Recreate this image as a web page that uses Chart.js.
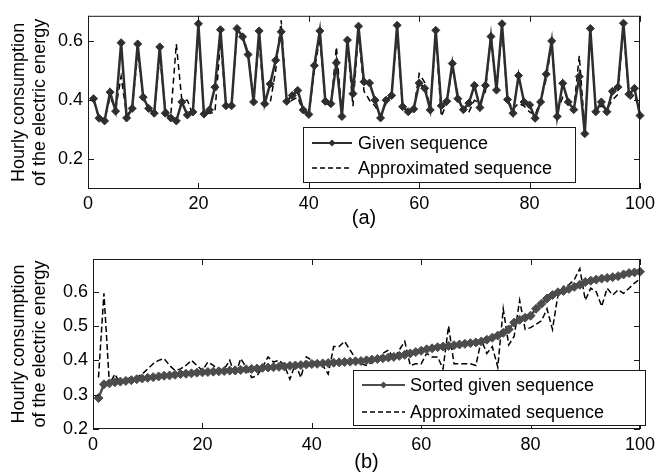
<!DOCTYPE html>
<html>
<head>
<meta charset="utf-8">
<script src="https://cdn.jsdelivr.net/npm/chart.js@4.4.1/dist/chart.umd.min.js"></script>
<style>
body { margin: 0; background: #fff; }
#wrap { position: relative; width: 660px; height: 476px; }
canvas { position: absolute; left: 0; }
#topChart { top: 0; }
#bottomChart { top: 240px; }
</style>
</head>
<body>
<div id="wrap">
  <canvas id="topChart" width="660" height="236"></canvas>
  <canvas id="bottomChart" width="660" height="236"></canvas>
</div>
<script>
// hour number on the x axis
var hours = [];
for (var h = 1; h <= 100; h++) hours.push(h);

// (a) given hourly consumption and its approximation
var givenSeq = [0.405,0.339,0.33,0.427,0.363,0.594,0.34,0.372,0.59,0.41,
  0.372,0.356,0.58,0.356,0.34,0.33,0.394,0.35,0.36,0.658,
  0.353,0.367,0.444,0.638,0.381,0.381,0.642,0.614,0.554,0.394,
  0.634,0.388,0.455,0.535,0.631,0.396,0.416,0.433,0.367,0.352,
  0.517,0.634,0.396,0.388,0.526,0.345,0.603,0.422,0.65,0.462,
  0.458,0.40,0.34,0.40,0.416,0.653,0.378,0.361,0.37,0.458,
  0.44,0.367,0.636,0.381,0.396,0.524,0.405,0.368,0.39,0.45,
  0.375,0.45,0.615,0.434,0.658,0.402,0.356,0.483,0.394,0.384,
  0.339,0.394,0.488,0.60,0.345,0.457,0.394,0.368,0.48,0.287,
  0.642,0.361,0.394,0.361,0.43,0.444,0.66,0.42,0.44,0.348];
var approxSeq = [0.40,0.34,0.335,0.41,0.37,0.48,0.35,0.37,0.56,0.41,
  0.375,0.36,0.55,0.37,0.35,0.59,0.40,0.40,0.35,0.64,
  0.36,0.355,0.36,0.60,0.38,0.38,0.63,0.62,0.56,0.40,
  0.60,0.38,0.39,0.50,0.67,0.39,0.40,0.41,0.36,0.35,
  0.50,0.61,0.39,0.38,0.58,0.35,0.59,0.38,0.63,0.43,
  0.40,0.38,0.35,0.39,0.42,0.63,0.37,0.36,0.37,0.49,
  0.46,0.37,0.62,0.345,0.39,0.51,0.42,0.36,0.36,0.40,
  0.39,0.43,0.62,0.43,0.64,0.40,0.37,0.39,0.38,0.36,
  0.35,0.40,0.47,0.59,0.36,0.41,0.40,0.37,0.55,0.30,
  0.63,0.37,0.38,0.37,0.40,0.42,0.65,0.40,0.42,0.36];

// (b) sorted given sequence and its approximation
var sortedSeq = [0.29,0.33,0.333,0.336,0.338,0.34,0.342,0.345,0.347,0.349,
  0.351,0.353,0.355,0.356,0.358,0.36,0.361,0.362,0.364,0.365,
  0.366,0.367,0.368,0.369,0.37,0.371,0.372,0.374,0.375,0.376,
  0.378,0.379,0.38,0.381,0.382,0.384,0.385,0.386,0.388,0.389,
  0.39,0.391,0.392,0.393,0.394,0.395,0.396,0.397,0.398,0.40,
  0.402,0.404,0.406,0.408,0.41,0.413,0.416,0.42,0.424,0.428,
  0.432,0.435,0.438,0.44,0.442,0.444,0.446,0.448,0.45,0.452,
  0.455,0.46,0.466,0.472,0.48,0.49,0.51,0.518,0.524,0.53,
  0.55,0.565,0.58,0.59,0.598,0.602,0.608,0.614,0.62,0.628,
  0.632,0.635,0.638,0.64,0.642,0.645,0.65,0.654,0.656,0.658];
var approxSorted = [0.35,0.595,0.33,0.36,0.33,0.345,0.35,0.35,0.36,0.375,
  0.39,0.40,0.405,0.385,0.37,0.375,0.385,0.40,0.385,0.37,
  0.395,0.385,0.37,0.375,0.40,0.355,0.405,0.38,0.35,0.355,
  0.38,0.41,0.395,0.40,0.385,0.345,0.39,0.35,0.41,0.40,
  0.39,0.385,0.36,0.44,0.44,0.455,0.43,0.405,0.39,0.385,
  0.395,0.40,0.42,0.43,0.405,0.43,0.455,0.385,0.39,0.39,
  0.42,0.41,0.41,0.375,0.50,0.39,0.39,0.39,0.39,0.385,
  0.46,0.42,0.44,0.38,0.55,0.445,0.47,0.575,0.49,0.495,
  0.505,0.515,0.55,0.49,0.59,0.615,0.62,0.635,0.667,0.575,
  0.61,0.60,0.557,0.61,0.59,0.605,0.595,0.61,0.625,0.637];

var xTicks = [0, 20, 40, 60, 80, 100];
var yTicksA = [0.2, 0.4, 0.6];
var yTicksB = [0.2, 0.3, 0.4, 0.5, 0.6];

Chart.defaults.font.family = '"Liberation Sans", Arial, sans-serif';
Chart.defaults.color = '#000';

function pts(arr) {
  return hours.map(function (h, i) { return { x: h, y: arr[i] }; });
}

// box round the plot area with inward tick marks, as in the original figure
var framePlugin = {
  id: 'frame',
  afterDatasetsDraw: function (chart) {
    var a = chart.chartArea, ctx = chart.ctx;
    var xs = chart.scales.x, ys = chart.scales.y;
    ctx.save();
    ctx.strokeStyle = '#1a1a1a';
    ctx.lineWidth = 1;
    ctx.setLineDash([]);
    ctx.strokeRect(a.left + 0.5, a.top + 0.5, a.right - a.left - 1, a.bottom - a.top - 1);
    ctx.beginPath();
    xs.ticks.forEach(function (t) {
      var px = Math.round(xs.getPixelForValue(t.value)) + 0.5;
      ctx.moveTo(px, a.bottom); ctx.lineTo(px, a.bottom - 6);
      ctx.moveTo(px, a.top); ctx.lineTo(px, a.top + 6);
    });
    ys.ticks.forEach(function (t) {
      var py = Math.round(ys.getPixelForValue(t.value)) + 0.5;
      ctx.moveTo(a.left, py); ctx.lineTo(a.left + 6, py);
      ctx.moveTo(a.right, py); ctx.lineTo(a.right - 6, py);
    });
    ctx.stroke();
    ctx.restore();
  }
};

// legend box drawn inside the plot area
var boxLegend = {
  id: 'boxLegend',
  afterDraw: function (chart, args, o) {
    var ctx = chart.ctx;
    ctx.save();
    ctx.fillStyle = '#fff';
    ctx.fillRect(o.x, o.y, o.w, o.h);
    ctx.strokeStyle = '#1a1a1a';
    ctx.lineWidth = 1;
    ctx.strokeRect(o.x + 0.5, o.y + 0.5, o.w, o.h);
    ctx.font = '18px "Liberation Sans", Arial, sans-serif';
    ctx.textBaseline = 'middle';
    chart.data.datasets.forEach(function (ds, i) {
      var ry = o.rows[i];
      ctx.strokeStyle = ds.borderColor;
      ctx.lineWidth = ds.borderDash ? 1.5 : 2;
      ctx.setLineDash(ds.borderDash ? [5, 3] : []);
      ctx.beginPath();
      ctx.moveTo(o.x0, ry); ctx.lineTo(o.x1, ry);
      ctx.stroke();
      ctx.setLineDash([]);
      if (ds.pointRadius) {
        var cx = (o.x0 + o.x1) / 2, r = 3.5;
        ctx.fillStyle = ds.pointBackgroundColor;
        ctx.beginPath();
        ctx.moveTo(cx, ry - r); ctx.lineTo(cx + r, ry);
        ctx.lineTo(cx, ry + r); ctx.lineTo(cx - r, ry);
        ctx.closePath();
        ctx.fill();
      }
      ctx.fillStyle = '#000';
      ctx.fillText(ds.label, o.tx, ry + 1);
    });
    ctx.restore();
  }
};

function makeOptions(o) {
  return {
    responsive: false,
    animation: false,
    devicePixelRatio: 1,
    layout: { padding: { top: o.padTop, right: o.padRight, left: 0, bottom: 0 }, autoPadding: false },
    scales: {
      x: {
        type: 'linear', min: 0, max: 100,
        afterBuildTicks: function (s) { s.ticks = xTicks.map(function (v) { return { value: v }; }); },
        afterFit: function (s) { s.height = o.xHeight; },
        grid: { display: false, drawTicks: false },
        border: { display: false },
        ticks: { padding: o.xPad, font: { size: 18 }, maxRotation: 0, callback: function (v) { return String(v); } },
        title: { display: true, text: o.caption, font: { size: 20, lineHeight: 1.2 }, padding: { top: 0, bottom: o.capPad } }
      },
      y: {
        type: 'linear', min: o.yMin, max: o.yMax,
        afterBuildTicks: function (s) { s.ticks = o.yTicks.map(function (v) { return { value: v }; }); },
        afterFit: function (s) { s.width = o.yWidth; },
        grid: { display: false, drawTicks: false },
        border: { display: false },
        ticks: { padding: 5, font: { size: 18 }, callback: function (v) { return String(v); } },
        title: {
          display: true,
          text: ['Hourly consumption', 'of the electric energy'],
          font: { size: 18, lineHeight: 1.15 },
          padding: { top: 9, bottom: 0 }
        }
      }
    },
    plugins: {
      legend: { display: false },
      tooltip: { enabled: false },
      boxLegend: o.legend
    }
  };
}

new Chart(document.getElementById('topChart'), {
  type: 'line',
  data: {
    datasets: [{
      label: 'Given sequence',
      data: pts(givenSeq),
      borderColor: '#2e2e2e',
      borderWidth: 2.5,
      pointStyle: 'rectRot',
      pointRadius: 4,
      pointBackgroundColor: '#2e2e2e',
      pointBorderColor: '#2e2e2e',
      pointBorderWidth: 1,
      tension: 0,
      clip: false
    }, {
      label: 'Approximated sequence',
      data: pts(approxSeq),
      borderColor: '#000000',
      borderWidth: 1.5,
      borderDash: [6, 4],
      pointRadius: 0,
      tension: 0
    }]
  },
  options: makeOptions({
    padTop: 12, padRight: 20, xHeight: 47, xPad: 4, caption: '(a)', capPad: 6,
    yMin: 0.1, yMax: 0.685, yTicks: yTicksA, yWidth: 88,
    legend: { x: 303, y: 127, w: 272, h: 55, rows: [143, 168], x0: 312, x1: 352, tx: 358 }
  }),
  plugins: [framePlugin, boxLegend]
});

new Chart(document.getElementById('bottomChart'), {
  type: 'line',
  data: {
    datasets: [{
      label: 'Sorted given sequence',
      data: pts(sortedSeq),
      borderColor: '#4c4c4c',
      borderWidth: 2.5,
      pointStyle: 'rectRot',
      pointRadius: 4.5,
      pointBackgroundColor: '#4c4c4c',
      pointBorderColor: '#4c4c4c',
      pointBorderWidth: 1,
      tension: 0,
      clip: false
    }, {
      label: 'Approximated sequence',
      data: pts(approxSorted),
      borderColor: '#000000',
      borderWidth: 1.5,
      borderDash: [6, 3],
      pointRadius: 0,
      tension: 0
    }]
  },
  options: makeOptions({
    padTop: 19, padRight: 15, xHeight: 47, xPad: 5, caption: '(b)', capPad: 2,
    yMin: 0.2, yMax: 0.695, yTicks: yTicksB, yWidth: 93,
    legend: { x: 353, y: 130, w: 292, h: 55, rows: [145, 172], x0: 362, x1: 405, tx: 410 }
  }),
  plugins: [framePlugin, boxLegend]
});
</script>
</body>
</html>
